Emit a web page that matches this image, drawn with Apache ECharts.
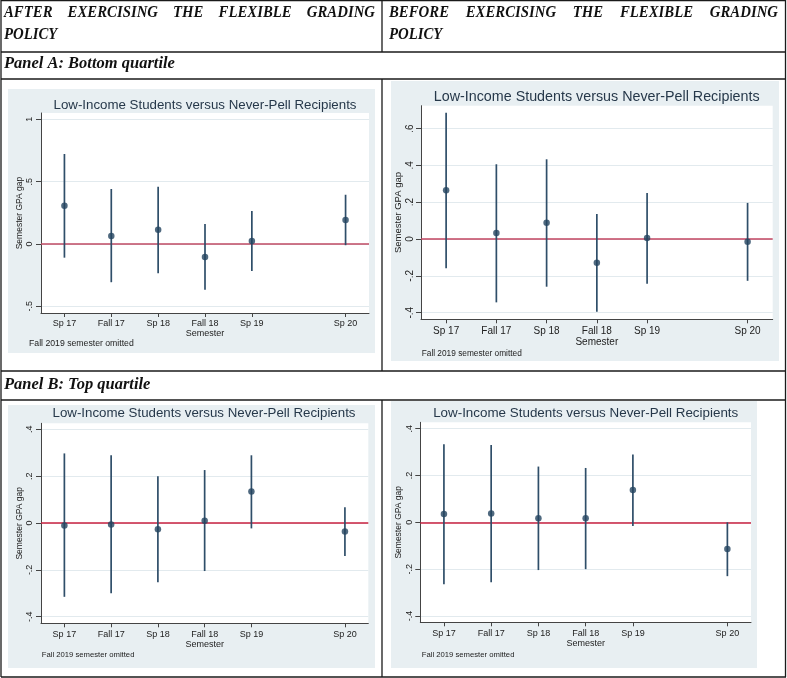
<!DOCTYPE html>
<html><head><meta charset="utf-8">
<script src="https://cdn.jsdelivr.net/npm/echarts@6/dist/echarts.min.js"></script>
<style>html,body{margin:0;padding:0;background:#fff}#c{width:787px;height:678px}</style>
</head><body><div id="c"></div>
<script>
// ---------- data ----------
const semesters = ['Sp 17', 'Fall 17', 'Sp 18', 'Fall 18', 'Sp 19', 'Fall 19', 'Sp 20'];
const omittedSemester = 'Fall 19';
const chartTitle = 'Low-Income Students versus Never-Pell Recipients';
const footnote = 'Fall 2019 semester omitted';
const yName = 'Semester GPA gap';
const xName = 'Semester';

// Panel A (bottom quartile), after exercising the policy
const aAfterEst  = [0.307, 0.064, 0.115, -0.104, 0.024, null, 0.193];
const aAfterLow  = [-0.110, -0.307, -0.235, -0.367, -0.217, null, -0.010];
const aAfterHigh = [0.722, 0.441, 0.460, 0.160, 0.265, null, 0.395];
const aAfterTicks = [-0.5, 0, 0.5, 1];
// Panel A, before
const aBeforeEst  = [0.265, 0.033, 0.089, -0.129, 0.005, null, -0.015];
const aBeforeLow  = [-0.159, -0.344, -0.259, -0.395, -0.243, null, -0.227];
const aBeforeHigh = [0.686, 0.406, 0.433, 0.136, 0.250, null, 0.196];
const aBeforeTicks = [-0.4, -0.2, 0, 0.2, 0.4, 0.6];
// Panel B (top quartile), after
const bAfterEst  = [-0.011, -0.006, -0.027, 0.010, 0.134, null, -0.036];
const bAfterLow  = [-0.315, -0.300, -0.253, -0.205, -0.023, null, -0.141];
const bAfterHigh = [0.297, 0.289, 0.200, 0.226, 0.289, null, 0.067];
const bAfterTicks = [-0.4, -0.2, 0, 0.2, 0.4];
// Panel B, before
const bBeforeEst  = [0.035, 0.038, 0.017, 0.017, 0.138, null, -0.114];
const bBeforeLow  = [-0.265, -0.256, -0.204, -0.200, -0.016, null, -0.230];
const bBeforeHigh = [0.333, 0.330, 0.238, 0.232, 0.290, null, 0.000];
const bBeforeTicks = [-0.4, -0.2, 0, 0.2, 0.4];

const headerLeft = 'AFTER EXERCISING THE FLEXIBLE GRADING POLICY';
const headerRight = 'BEFORE EXERCISING THE FLEXIBLE GRADING POLICY';
const panelALabel = 'Panel A: Bottom quartile';
const panelBLabel = 'Panel B: Top quartile';

// ---------- layout / style ----------
const SANS = '"Liberation Sans", Arial, sans-serif';
const SERIF = '"Liberation Serif", "Times New Roman", serif';
const BG = '#e8eff2';
const NAVY = '#23445f';
const TXT = '#222';

const panels = [
  { est: aAfterEst, low: aAfterLow, high: aAfterHigh, ticks: aAfterTicks, min: -0.554, max: 1.051,
    grid: { left: 41, top: 113, width: 328, height: 200 }, bg: [8, 89, 367, 264],
    title: [205, 105, 13.3], foot: [29, 344, 8.7], lab: 9, xMargin: 6, xNameGap: 15, yMargin: 6.5, yNameGap: 16.5, zero: '#bf4a63' },
  { est: aBeforeEst, low: aBeforeLow, high: aBeforeHigh, ticks: aBeforeTicks, min: -0.436, max: 0.724,
    grid: { left: 421, top: 105.7, width: 351.7, height: 213.6 }, bg: [391, 81, 388, 280],
    title: [596.7, 96.7, 14.3], foot: [421.7, 353.7, 8.3], lab: 10, xMargin: 7, xNameGap: 16, yMargin: 6, yNameGap: 18, zero: '#c24560' },
  { est: bAfterEst, low: bAfterLow, high: bAfterHigh, ticks: bAfterTicks, min: -0.428, max: 0.4255,
    grid: { left: 41, top: 423.3, width: 327.3, height: 200 }, bg: [8, 405, 367, 263],
    title: [204, 413.3, 13.3], foot: [41.7, 655, 7.7], lab: 9, xMargin: 7, xNameGap: 15.5, yMargin: 6.5, yNameGap: 16.5, zero: '#c8203f' },
  { est: bBeforeEst, low: bBeforeLow, high: bBeforeHigh, ticks: bBeforeTicks, min: -0.427, max: 0.427,
    grid: { left: 420.3, top: 422.3, width: 330.7, height: 200 }, bg: [391, 401, 366, 267],
    title: [585.7, 413.3, 13.4], foot: [421.7, 655, 7.7], lab: 9, xMargin: 7, xNameGap: 16, yMargin: 6.5, yNameGap: 17.5, zero: '#c8203f' }
];

const fmt = v => String(v).replace('0.', '.');
const keep = (i, v) => v !== omittedSemester;

const grids = [], xAxes = [], yAxes = [], series = [], graphics = [];

panels.forEach((p, k) => {
  grids.push(Object.assign({ show: true, backgroundColor: '#fff', borderWidth: 0, containLabel: false }, p.grid));
  xAxes.push({
    type: 'category', gridIndex: k, data: semesters, boundaryGap: true,
    axisLine: { show: true, onZero: false, lineStyle: { color: '#444', width: 1 } },
    axisTick: { show: true, alignWithLabel: true, length: 4, interval: keep, lineStyle: { color: '#444' } },
    axisLabel: { interval: keep, fontSize: p.lab, color: TXT, fontFamily: SANS, margin: p.xMargin },
    splitLine: { show: false },
    name: xName, nameLocation: 'middle', nameGap: p.xNameGap,
    nameTextStyle: { fontSize: p.lab, color: TXT, fontFamily: SANS }
  });
  yAxes.push({
    type: 'value', gridIndex: k, min: p.min, max: p.max,
    axisLine: { show: true, lineStyle: { color: '#444', width: 1 } },
    axisTick: { show: true, length: 5, customValues: p.ticks, lineStyle: { color: '#444' } },
    axisLabel: { customValues: p.ticks, rotate: 90, formatter: fmt, fontSize: p.lab, color: TXT, fontFamily: SANS, margin: p.yMargin },
    splitLine: { show: true, lineStyle: { color: '#e2eaee', width: 1 } },
    name: yName, nameLocation: 'middle', nameRotate: 90, nameGap: p.yNameGap,
    nameTextStyle: { fontSize: p.lab - 0.5, color: TXT, fontFamily: SANS }
  });
  const ciData = [], ptData = [];
  semesters.forEach((s, i) => {
    if (p.est[i] === null) return;
    ciData.push([i, p.low[i], p.high[i]]);
    ptData.push([i, p.est[i]]);
  });
  series.push({
    type: 'custom', xAxisIndex: k, yAxisIndex: k, data: ciData, silent: true,
    encode: { x: 0, y: [1, 2] },
    renderItem: (params, api) => {
      const a = api.coord([api.value(0), api.value(1)]);
      const b = api.coord([api.value(0), api.value(2)]);
      return { type: 'line', shape: { x1: a[0], y1: a[1], x2: b[0], y2: b[1] },
               style: { stroke: '#2f4e69', lineWidth: 1.7 } };
    },
    z: 3
  });
  series.push({
    type: 'scatter', xAxisIndex: k, yAxisIndex: k, data: ptData, symbol: 'circle', symbolSize: 6.5,
    itemStyle: { color: NAVY }, silent: true, z: 4,
    markLine: { silent: true, symbol: ['none', 'none'], label: { show: false },
      lineStyle: { color: p.zero, width: 1.6, type: 'solid' }, data: [{ yAxis: 0 }], z: 2 }
  });
  graphics.push({ type: 'rect', z: -10, shape: { x: p.bg[0], y: p.bg[1], width: p.bg[2], height: p.bg[3] }, style: { fill: BG } });
  graphics.push({ type: 'text', z: 5, x: p.title[0], y: p.title[1],
    style: { text: chartTitle, fill: '#26384a', fontSize: p.title[2], fontFamily: SANS, align: 'center', verticalAlign: 'middle' } });
  graphics.push({ type: 'text', z: 5, x: p.foot[0], y: p.foot[1],
    style: { text: footnote, fill: TXT, fontSize: p.foot[2], fontFamily: SANS, align: 'left', verticalAlign: 'middle' } });
});

// ---------- table frame ----------
const LINE = { stroke: '#1a1a1a', lineWidth: 1.3 };
const hLines = [0.7, 52, 79, 371, 400, 677];
hLines.forEach(y => graphics.push({ type: 'line', z: 6, shape: { x1: 1, y1: y, x2: 786, y2: y }, style: LINE }));
[[1, 0, 677], [785.5, 0, 677], [382, 0, 52], [382, 79, 371], [382, 400, 677]].forEach(v =>
  graphics.push({ type: 'line', z: 6, shape: { x1: v[0], y1: v[1], x2: v[0], y2: v[2] }, style: LINE }));

// ---------- header texts (justified first line, condensed face) ----------
const HFONT = 17;
const HSCALE = 0.87;
const ctx = document.createElement('canvas').getContext('2d');
ctx.font = 'italic bold ' + HFONT + 'px ' + SERIF;
function word(text, x, y, sx) {
  graphics.push({ type: 'text', z: 6, x: x, y: y, scaleX: sx,
    style: { text: text, fill: '#111', fontSize: HFONT, fontWeight: 'bold', fontStyle: 'italic', fontFamily: SERIF, align: 'left', verticalAlign: 'middle' } });
}
function headerText(str, x0, x1, y1, y2) {
  const words = str.split(' ');
  const first = words.slice(0, words.length - 1), last = words[words.length - 1];
  const widths = first.map(w => ctx.measureText(w).width * HSCALE);
  const total = widths.reduce((a, b) => a + b, 0);
  const gap = (x1 - x0 - total) / (first.length - 1);
  let x = x0;
  first.forEach((w, i) => { word(w, x, y1, HSCALE); x += widths[i] + gap; });
  word(last, x0, y2, HSCALE);
}
headerText(headerLeft, 4, 375, 13, 35);
headerText(headerRight, 389, 778, 13, 35);
word(panelALabel, 4, 64, 0.97);
word(panelBLabel, 4, 385, 0.97);

const chart = echarts.init(document.getElementById('c'), null, { renderer: 'canvas' });
chart.setOption({
  animation: false,
  backgroundColor: '#fff',
  grid: grids, xAxis: xAxes, yAxis: yAxes, series: series,
  graphic: { elements: graphics }
});
</script></body></html>
